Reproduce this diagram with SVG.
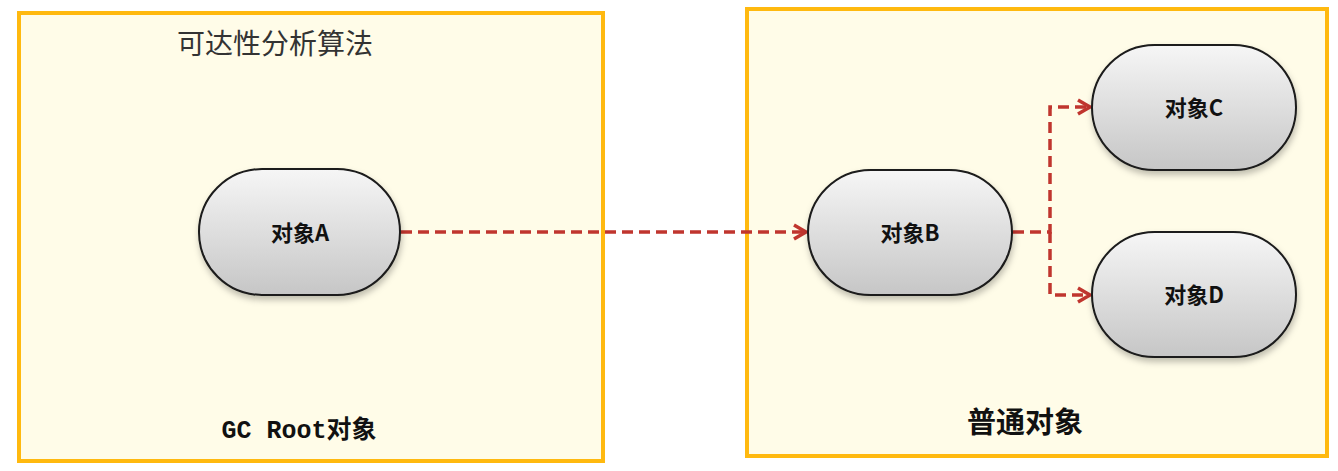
<svg xmlns="http://www.w3.org/2000/svg" width="1338" height="471" viewBox="0 0 1338 471">
<style>
.box{fill:#FFFCE8;stroke:#FFB90F;stroke-width:4}
.node{fill:url(#g);stroke:#1a1a1a;stroke-width:2;filter:url(#sh)}
.lbl{font-family:"Noto Sans CJK SC","Liberation Sans",sans-serif;font-weight:bold;font-size:22px;fill:#111;text-anchor:middle}
.edge{fill:none;stroke:#C0352E;stroke-width:3.5;stroke-dasharray:11 6}
</style>
<defs>
<linearGradient id="g" x1="0" y1="0" x2="0" y2="1">
<stop offset="0" stop-color="#F6F6F6"/>
<stop offset="1" stop-color="#C6C6C6"/>
</linearGradient>
<filter id="sh" x="-10%" y="-10%" width="125%" height="130%">
<feDropShadow dx="1" dy="4" stdDeviation="3" flood-color="#000" flood-opacity="0.25"/>
</filter>
<marker id="arr" markerWidth="20" markerHeight="20" refX="16" refY="10" orient="auto" markerUnits="userSpaceOnUse">
<path d="M4,3 L16,10 L4,17" fill="none" stroke="#C0352E" stroke-width="3.5"/>
</marker>
</defs>
<rect width="1338" height="471" fill="#ffffff"/>
<g id="gcroot-area">
<rect class="box" x="19" y="13" width="584" height="448"/>
<text x="275" y="54" font-family="Noto Sans CJK SC,sans-serif" font-size="28" fill="#333" text-anchor="middle">可达性分析算法</text>
<text x="299" y="438" text-anchor="middle" font-size="25" font-weight="bold" fill="#111"><tspan font-family="Liberation Mono,monospace">GC Root</tspan><tspan font-family="Noto Sans CJK SC,sans-serif">对象</tspan></text>
</g>
<g id="normal-area">
<rect class="box" x="747" y="9" width="580" height="447"/>
<text x="1025" y="433" font-family="Noto Sans CJK SC,sans-serif" font-size="29" font-weight="bold" fill="#111" text-anchor="middle">普通对象</text>
</g>
<g id="connectors">
<path class="edge" d="M401,232 L806,232" marker-end="url(#arr)"/>
<path class="edge" d="M1013,232 L1050,232 L1050,107 L1090,107" marker-end="url(#arr)"/>
<path class="edge" d="M1050,232 L1050,295 L1090,295" marker-end="url(#arr)"/>
</g>
<g id="nodeA">
<rect class="node" x="199" y="169" width="201" height="126" rx="63" ry="63"/>
<text class="lbl" x="300" y="241">对象A</text>
</g>
<g id="nodeB">
<rect class="node" x="808" y="170" width="204" height="125" rx="62.5" ry="62.5"/>
<text class="lbl" x="910" y="241">对象B</text>
</g>
<g id="nodeC">
<rect class="node" x="1092" y="45" width="204" height="125" rx="62.5" ry="62.5"/>
<text class="lbl" x="1194" y="116">对象C</text>
</g>
<g id="nodeD">
<rect class="node" x="1092" y="232" width="204" height="125" rx="62.5" ry="62.5"/>
<text class="lbl" x="1194" y="303">对象D</text>
</g>
</svg>
